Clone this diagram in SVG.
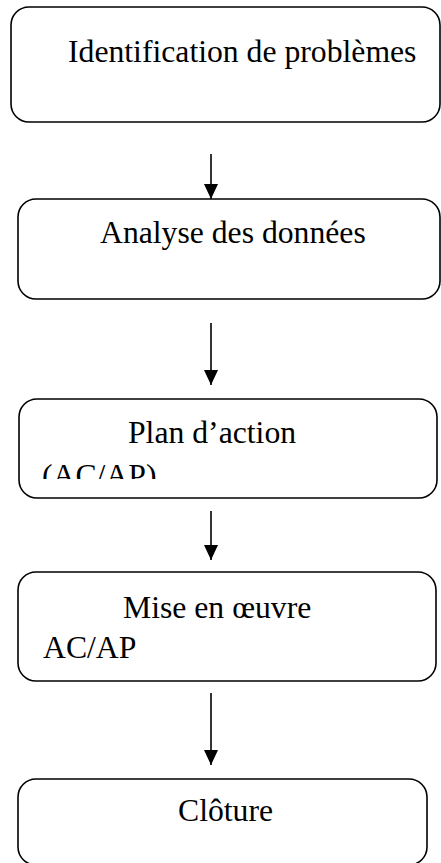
<svg xmlns="http://www.w3.org/2000/svg" width="441" height="863" viewBox="0 0 441 863">
  <style>
    .box { fill: #ffffff; stroke: #000000; stroke-width: 1.6; }
    .lbl { font-family: "Liberation Serif", "Times New Roman", serif; font-size: 31.7px; fill: #000000; }
    .link { stroke: #000000; stroke-width: 1.6; fill: none; marker-end: url(#head); }
  </style>
  <defs>
    <!-- filled triangular arrowhead, tip at the end of the path -->
    <marker id="head" markerUnits="userSpaceOnUse" markerWidth="15" markerHeight="14" viewBox="0 0 15 14" refX="15" refY="7" orient="auto">
      <path d="M0,0 L15,7 L0,14 Z" fill="#000000"/>
    </marker>
    <clipPath id="clip-plan">
      <rect x="0" y="399" width="441" height="80"/>
    </clipPath>
  </defs>

  <rect width="441" height="863" fill="#ffffff"/>

  <g id="identification">
    <rect class="box" x="11" y="7" width="429" height="115" rx="18" ry="18"/>
    <text class="lbl" x="68" y="62">Identification de problèmes</text>
  </g>

  <g id="analyse">
    <rect class="box" x="18" y="199" width="422" height="100" rx="18" ry="18"/>
    <text class="lbl" x="100" y="243">Analyse des données</text>
  </g>

  <g id="plan-action">
    <rect class="box" x="19" y="399" width="418" height="99" rx="18" ry="18"/>
    <text class="lbl" x="128" y="443">Plan d’action</text>
    <text class="lbl" x="42" y="486" clip-path="url(#clip-plan)">(AC/AP)</text>
  </g>

  <g id="mise-en-oeuvre">
    <rect class="box" x="18" y="572" width="418" height="109" rx="18" ry="18"/>
    <text class="lbl" x="123" y="618">Mise en œuvre</text>
    <text class="lbl" x="43" y="658">AC/AP</text>
  </g>

  <g id="cloture">
    <rect class="box" x="18" y="779" width="409" height="86" rx="18" ry="18"/>
    <text class="lbl" x="178" y="821">Clôture</text>
  </g>

  <g id="connectors">
    <path class="link" d="M211,154 V199"/>
    <path class="link" d="M211,323 V385"/>
    <path class="link" d="M211,511 V560"/>
    <path class="link" d="M211,693 V765"/>
  </g>
</svg>
